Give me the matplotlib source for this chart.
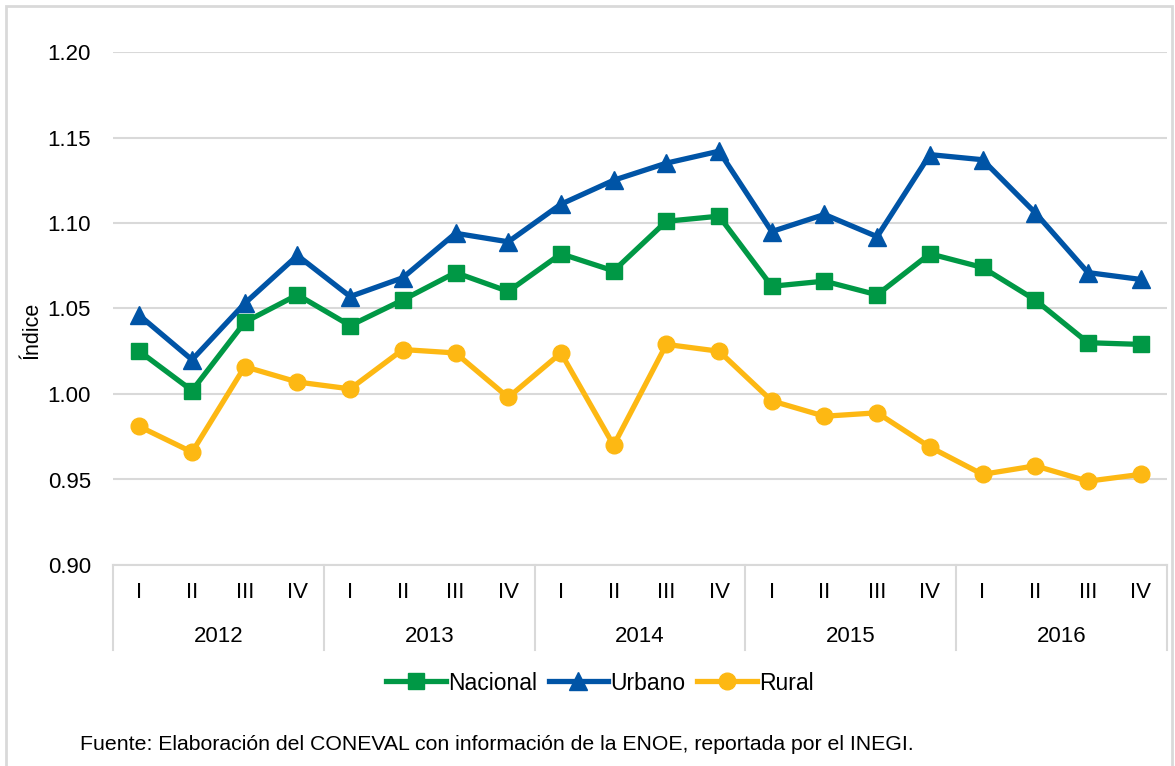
import matplotlib
matplotlib.use("Agg")
import matplotlib.pyplot as plt
from matplotlib.lines import Line2D
from matplotlib.patches import Rectangle

plt.rcParams['font.family'] = ['Liberation Sans', 'DejaVu Sans']

# datos trimestrales 2012-2016
years = ['2012', '2013', '2014', '2015', '2016']
quarters = ['I', 'II', 'III', 'IV']
nacional = [1.025, 1.002, 1.042, 1.058, 1.040, 1.055, 1.071, 1.060,
            1.082, 1.072, 1.101, 1.104, 1.063, 1.066, 1.058, 1.082,
            1.074, 1.055, 1.030, 1.029]
urbano = [1.046, 1.020, 1.053, 1.081, 1.057, 1.068, 1.094, 1.089,
          1.111, 1.125, 1.135, 1.142, 1.095, 1.105, 1.092, 1.140,
          1.137, 1.106, 1.071, 1.067]
rural = [0.981, 0.966, 1.016, 1.007, 1.003, 1.026, 1.024, 0.998,
         1.024, 0.970, 1.029, 1.025, 0.996, 0.987, 0.989, 0.969,
         0.953, 0.958, 0.949, 0.953]

grid_col = '#D9D9D9'
x = list(range(len(nacional)))

fig = plt.figure(figsize=(11.75, 7.66), dpi=100)
ax = fig.add_axes([113/1175, 1 - 565/766, (1167-113)/1175, (565-52)/766])

ax.plot(x, nacional, color='#009845', lw=3.8, marker='s', ms=11.5, label='Nacional')
ax.plot(x, urbano, color='#0054A6', lw=3.8, marker='^', ms=12.5, label='Urbano')
ax.plot(x, rural, color='#FDB813', lw=3.8, marker='o', ms=12, label='Rural')

ax.set_xlim(-0.5, len(x) - 0.5)
ax.set_ylim(0.90, 1.20)
ax.set_yticks([0.90, 0.95, 1.00, 1.05, 1.10, 1.15, 1.20])
ax.set_yticklabels(['%.2f' % v for v in ax.get_yticks()])
ax.yaxis.grid(True, color=grid_col, lw=1.5)
ax.set_axisbelow(True)
for s in ['left', 'top', 'right']:
    ax.spines[s].set_visible(False)
ax.spines['bottom'].set_color(grid_col)
ax.spines['bottom'].set_linewidth(1.5)
ax.tick_params(axis='y', length=0, pad=16, labelsize=16)
ax.set_xticks(x)
ax.set_xticklabels(quarters * len(years))
ax.tick_params(axis='x', length=0, pad=12, labelsize=16)

# segundo nivel del eje: años y separadores
trans = ax.get_xaxis_transform()
for i, yr in enumerate(years):
    ax.text(i * 4 + 1.5, -0.140, yr, transform=trans, ha='center', va='center', fontsize=16)
for k in range(len(years) + 1):
    ax.add_line(Line2D([k * 4 - 0.5] * 2, [0, -0.166], transform=trans,
                       color=grid_col, lw=1.5, clip_on=False))

fig.text(32/1175, 1 - 330/766, 'Índice', rotation=90, ha='center', va='center', fontsize=15.5)

ax.legend(loc='center', bbox_to_anchor=(600/1175, 1 - 683/766), bbox_transform=fig.transFigure,
          ncol=3, frameon=False, fontsize=16.5, handlelength=2.6, handletextpad=0.1,
          columnspacing=0.5, borderpad=0)

fig.text(80/1175, 1 - 745/766, 'Fuente: Elaboración del CONEVAL con información de la ENOE, reportada por el INEGI.',
         ha='left', va='center', fontsize=15.3)

fig.patches.append(Rectangle((6/1175, -0.05), (1172-6)/1175, 1.05 - 6/766, transform=fig.transFigure,
                             fill=False, edgecolor=grid_col, lw=2))

fig.savefig('out.png', dpi=100)
